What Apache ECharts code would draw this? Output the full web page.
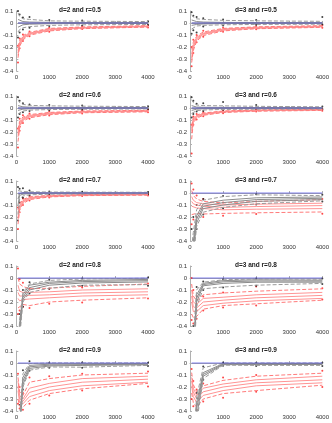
<!DOCTYPE html>
<html><head><meta charset="utf-8">
<script src="https://cdn.jsdelivr.net/npm/echarts@6/dist/echarts.min.js"></script>
<style>html,body{margin:0;padding:0;background:#fff}#c{width:332px;height:423px}</style>
</head><body><div id="c"></div>
<script>
// sample sizes (x positions)
const N = [50, 100, 200, 400, 1000, 2000, 4000];
const ZERO = [0, 0, 0, 0, 0, 0, 0];
const xTicks = [0, 1000, 2000, 3000, 4000];
const yTicks = [-0.4, -0.3, -0.2, -0.1, 0, 0.1];
const titles = ['d=2 and r=0.5', 'd=3 and r=0.5', 'd=2 and r=0.6', 'd=3 and r=0.6',
  'd=2 and r=0.7', 'd=3 and r=0.7', 'd=2 and r=0.8', 'd=3 and r=0.8',
  'd=2 and r=0.9', 'd=3 and r=0.9'];
// each group: [dotsHi, dashHi, solid1, solid2, solid3, dashLo, dotsLo]
const B1 = [[0.10,0.07,0.045,0.05,0.025,0.02,0.015],[0.085,0.055,0.035,0.03,0.018,0.015,0.012],[0.03,0.02,0.012,0.008,0.005,0.004,0.003],[0,0,0,0,0,0,0],[-0.035,-0.025,-0.015,-0.01,-0.006,-0.004,-0.003],[-0.075,-0.055,-0.04,-0.03,-0.02,-0.015,-0.012],[-0.12,-0.08,-0.055,-0.04,-0.025,-0.02,-0.015]];
const R1 = [[-0.19,-0.13,-0.095,-0.07,-0.04,-0.03,-0.02],[-0.2,-0.145,-0.105,-0.078,-0.045,-0.033,-0.022],[-0.23,-0.16,-0.115,-0.085,-0.05,-0.037,-0.025],[-0.25,-0.17,-0.122,-0.09,-0.055,-0.04,-0.028],[-0.27,-0.18,-0.13,-0.095,-0.06,-0.043,-0.031],[-0.29,-0.195,-0.14,-0.102,-0.066,-0.047,-0.034],[-0.33,-0.21,-0.15,-0.11,-0.072,-0.05,-0.037]];
const B2 = [[0.09,0.06,0.05,0.04,0.03,0.025,0.05],[0.07,0.05,0.035,0.03,0.022,0.018,0.014],[0.025,0.018,0.012,0.008,0.005,0.004,0.003],[0,0,0,0,0,0,0],[-0.02,-0.015,-0.012,-0.008,-0.005,-0.004,-0.003],[-0.05,-0.035,-0.025,-0.02,-0.015,-0.012,-0.01],[-0.09,-0.06,-0.08,-0.03,-0.02,-0.015,-0.012]];
const R2 = [[-0.2,-0.14,-0.1,-0.065,-0.04,-0.028,-0.018],[-0.22,-0.16,-0.11,-0.075,-0.045,-0.032,-0.022],[-0.26,-0.18,-0.12,-0.085,-0.05,-0.036,-0.026],[-0.29,-0.195,-0.13,-0.09,-0.055,-0.04,-0.029],[-0.31,-0.21,-0.14,-0.095,-0.06,-0.044,-0.032],[-0.33,-0.23,-0.15,-0.105,-0.066,-0.048,-0.036],[-0.36,-0.25,-0.16,-0.115,-0.072,-0.052,-0.04]];
const B3 = [[0.09,0.06,0.04,0.03,0.025,0.02,0.015],[0.07,0.045,0.03,0.022,0.018,0.015,0.012],[0.02,0.015,0.01,0.007,0.005,0.004,0.003],[0,0,0,0,0,0,0],[-0.02,-0.015,-0.01,-0.007,-0.005,-0.004,-0.003],[-0.05,-0.035,-0.025,-0.018,-0.013,-0.01,-0.008],[-0.08,-0.05,-0.035,-0.025,-0.018,-0.014,-0.011]];
const R3 = [[-0.17,-0.09,-0.06,-0.045,-0.03,-0.02,-0.015],[-0.18,-0.11,-0.075,-0.055,-0.037,-0.025,-0.019],[-0.2,-0.125,-0.085,-0.062,-0.042,-0.029,-0.022],[-0.22,-0.14,-0.092,-0.068,-0.046,-0.032,-0.025],[-0.24,-0.15,-0.1,-0.074,-0.05,-0.035,-0.028],[-0.28,-0.17,-0.11,-0.082,-0.056,-0.04,-0.032],[-0.33,-0.19,-0.125,-0.09,-0.062,-0.045,-0.036]];
const B4 = [[0.09,0.06,0.035,0.04,0.05,0.025,0.012],[0.07,0.045,0.025,0.02,0.018,0.014,0.01],[0.02,0.015,0.008,0.006,0.005,0.004,0.003],[0,0,0,0,0,0,0],[-0.02,-0.015,-0.01,-0.007,-0.005,-0.004,-0.003],[-0.045,-0.03,-0.022,-0.017,-0.012,-0.01,-0.008],[-0.08,-0.05,-0.03,-0.025,-0.02,-0.015,-0.01]];
const R4 = [[-0.14,-0.07,-0.05,-0.035,-0.02,-0.012,-0.008],[-0.15,-0.08,-0.058,-0.042,-0.025,-0.016,-0.011],[-0.17,-0.09,-0.064,-0.047,-0.028,-0.019,-0.013],[-0.19,-0.1,-0.07,-0.051,-0.031,-0.021,-0.015],[-0.21,-0.11,-0.076,-0.055,-0.034,-0.023,-0.017],[-0.26,-0.125,-0.085,-0.061,-0.038,-0.027,-0.02],[-0.38,-0.14,-0.095,-0.068,-0.043,-0.03,-0.023]];
const B5 = [[0.05,0.035,0.04,0.02,0.012,0.01,0.008],[0.02,0.015,0.012,0.01,0.008,0.007,0.006],[-0.01,0.005,0.004,0.003,0.002,0.002,0.001],[-0.05,-0.005,-0.002,-0.001,-0.001,0,0],[-0.1,-0.02,-0.01,-0.005,-0.004,-0.003,-0.002],[-0.18,-0.05,-0.025,-0.015,-0.01,-0.008,-0.006],[-0.23,-0.08,-0.04,-0.02,-0.015,-0.012,-0.01]];
const R5 = [[-0.12,-0.08,-0.045,-0.025,-0.015,-0.01,-0.006],[-0.14,-0.09,-0.055,-0.032,-0.019,-0.013,-0.009],[-0.17,-0.105,-0.065,-0.038,-0.023,-0.015,-0.011],[-0.2,-0.12,-0.072,-0.043,-0.026,-0.017,-0.013],[-0.22,-0.13,-0.08,-0.048,-0.029,-0.019,-0.015],[-0.26,-0.145,-0.09,-0.055,-0.033,-0.022,-0.018],[-0.3,-0.16,-0.1,-0.062,-0.037,-0.025,-0.021]];
const B6 = [[-0.3,-0.2,-0.1,-0.05,-0.025,-0.01,-0.015],[-0.45,-0.33,-0.14,-0.06,-0.03,-0.015,-0.022],[-0.6,-0.4,-0.19,-0.09,-0.06,-0.04,-0.033],[-0.65,-0.45,-0.22,-0.11,-0.08,-0.055,-0.044],[-0.7,-0.5,-0.25,-0.13,-0.1,-0.07,-0.055],[-0.8,-0.55,-0.28,-0.16,-0.12,-0.09,-0.065],[-0.9,-0.6,-0.3,-0.18,-0.13,-0.095,-0.07]];
const R6 = [[0.08,0.03,-0.02,-0.05,-0.08,-0.07,-0.05],[0.02,-0.02,-0.05,-0.07,-0.083,-0.07,-0.055],[-0.03,-0.06,-0.08,-0.09,-0.1,-0.093,-0.085],[-0.07,-0.09,-0.1,-0.11,-0.12,-0.113,-0.105],[-0.11,-0.12,-0.125,-0.13,-0.14,-0.135,-0.13],[-0.18,-0.17,-0.17,-0.175,-0.17,-0.165,-0.158],[-0.26,-0.22,-0.2,-0.2,-0.19,-0.175,-0.172]];
const B7 = [[-0.5,-0.3,-0.1,-0.035,-0.015,-0.005,0.005],[-0.6,-0.35,-0.12,-0.05,-0.02,-0.008,-0.002],[-0.7,-0.38,-0.14,-0.06,-0.035,-0.02,-0.012],[-0.75,-0.42,-0.16,-0.08,-0.045,-0.03,-0.022],[-0.8,-0.45,-0.18,-0.1,-0.06,-0.042,-0.033],[-0.9,-0.5,-0.2,-0.12,-0.085,-0.06,-0.055],[-1.0,-0.55,-0.24,-0.13,-0.09,-0.065,-0.065]];
const R7 = [[0.08,-0.01,-0.04,-0.09,-0.09,-0.08,-0.045],[0.0,-0.05,-0.07,-0.09,-0.085,-0.07,-0.05],[-0.06,-0.11,-0.12,-0.12,-0.115,-0.1,-0.09],[-0.12,-0.15,-0.15,-0.145,-0.14,-0.125,-0.115],[-0.17,-0.19,-0.18,-0.175,-0.165,-0.15,-0.14],[-0.25,-0.24,-0.22,-0.23,-0.2,-0.185,-0.165],[-0.3,-0.27,-0.24,-0.25,-0.215,-0.205,-0.17]];
const B8 = [[-0.6,-0.4,-0.075,-0.03,-0.01,-0.005,-0.005],[-0.7,-0.5,-0.1,-0.035,-0.015,-0.008,-0.01],[-0.8,-0.6,-0.14,-0.045,-0.022,-0.015,-0.018],[-0.85,-0.65,-0.17,-0.055,-0.032,-0.025,-0.026],[-0.9,-0.7,-0.2,-0.065,-0.045,-0.035,-0.035],[-1.0,-0.75,-0.24,-0.09,-0.075,-0.06,-0.045],[-1.1,-0.8,-0.27,-0.1,-0.08,-0.065,-0.05]];
const R8 = [[0.0,-0.1,-0.15,-0.155,-0.12,-0.07,-0.085],[-0.05,-0.15,-0.19,-0.14,-0.125,-0.11,-0.09],[-0.1,-0.2,-0.22,-0.17,-0.16,-0.14,-0.12],[-0.15,-0.24,-0.25,-0.2,-0.185,-0.165,-0.145],[-0.2,-0.28,-0.28,-0.23,-0.21,-0.19,-0.17],[-0.3,-0.33,-0.32,-0.26,-0.23,-0.215,-0.185],[-0.35,-0.38,-0.34,-0.27,-0.245,-0.23,-0.18]];
const B9 = [[-0.7,-0.35,-0.06,0.014,0.003,0.005,0.002],[-0.8,-0.45,-0.09,-0.005,0.0,0.0,0.0],[-0.9,-0.5,-0.12,-0.02,-0.01,-0.008,-0.005],[-0.95,-0.55,-0.15,-0.032,-0.018,-0.014,-0.01],[-1.0,-0.6,-0.18,-0.045,-0.025,-0.02,-0.015],[-1.1,-0.65,-0.2,-0.06,-0.033,-0.035,-0.02],[-1.2,-0.7,-0.22,-0.065,-0.04,-0.04,-0.025]];
const R9 = [[-0.09,-0.2,-0.25,-0.12,-0.11,-0.09,-0.07],[-0.12,-0.24,-0.27,-0.16,-0.13,-0.1,-0.085],[-0.15,-0.27,-0.3,-0.21,-0.17,-0.13,-0.11],[-0.19,-0.3,-0.32,-0.245,-0.2,-0.16,-0.135],[-0.23,-0.33,-0.34,-0.28,-0.23,-0.19,-0.16],[-0.3,-0.36,-0.37,-0.31,-0.255,-0.215,-0.17],[-0.34,-0.38,-0.39,-0.34,-0.27,-0.23,-0.195]];
const B10 = [[-0.8,-0.6,-0.25,-0.03,0.005,0.003,0.002],[-0.9,-0.7,-0.28,-0.04,0.0,0.0,0.0],[-1.0,-0.8,-0.33,-0.08,-0.005,-0.005,-0.004],[-1.05,-0.85,-0.38,-0.095,-0.01,-0.009,-0.008],[-1.1,-0.9,-0.45,-0.11,-0.014,-0.013,-0.012],[-1.2,-0.95,-0.5,-0.13,-0.018,-0.02,-0.02],[-1.3,-1.0,-0.55,-0.14,-0.022,-0.024,-0.024]];
const R10 = [[-0.05,-0.15,-0.22,-0.17,-0.12,-0.1,-0.065],[-0.08,-0.18,-0.24,-0.19,-0.145,-0.11,-0.085],[-0.12,-0.21,-0.27,-0.21,-0.175,-0.14,-0.11],[-0.15,-0.24,-0.3,-0.24,-0.2,-0.165,-0.14],[-0.19,-0.28,-0.33,-0.27,-0.23,-0.19,-0.165],[-0.25,-0.33,-0.37,-0.3,-0.255,-0.23,-0.185],[-0.3,-0.36,-0.39,-0.32,-0.29,-0.24,-0.2]];

const BLACK = [B1,B2,B3,B4,B5,B6,B7,B8,B9,B10];
const RED = [R1,R2,R3,R4,R5,R6,R7,R8,R9,R10];

const FONT = 'Liberation Sans, Arial, sans-serif';
const grids = [], xAxes = [], yAxes = [], series = [], tts = [];
const pair = arr => N.map((x, k) => [x, arr[k]]);

function addGroup(i, g, solidC, dashC, dotC) {
  const base = {xAxisIndex: i, yAxisIndex: i, silent: true, animation: false};
  [2, 3, 4].forEach(k => series.push(Object.assign({}, base, {type: 'line', showSymbol: false, data: pair(g[k]),
    lineStyle: {color: solidC, width: 1}})));
  [1, 5].forEach(k => series.push(Object.assign({}, base, {type: 'line', showSymbol: false, data: pair(g[k]),
    lineStyle: {color: dashC, width: 1, type: [4, 2]}})));
  [0, 6].forEach(k => series.push(Object.assign({}, base, {type: 'scatter', symbolSize: 2, data: pair(g[k]),
    itemStyle: {color: dotC}})));
}

for (let i = 0; i < 10; i++) {
  const row = Math.floor(i / 2), col = i % 2;
  const left = col === 0 ? 13 : 190;
  const width = col === 0 ? 135 : 136;
  const top = 11 + row * 85;
  grids.push({left: left, top: top, width: width, height: 60, containLabel: false});
  xAxes.push({type: 'value', gridIndex: i, min: 0, max: 4000, interval: 1000,
    axisLine: {show: true, lineStyle: {color: '#b0b0b0', width: 1}},
    axisTick: {show: true, inside: true, length: 2, lineStyle: {color: '#b0b0b0'}},
    splitLine: {show: false},
    axisLabel: {fontSize: 6, color: '#333', margin: 3, fontFamily: FONT,
      customValues: xTicks, formatter: v => String(v)}});
  yAxes.push({type: 'value', gridIndex: i, min: -0.4, max: 0.1, interval: 0.1,
    axisLine: {show: true, onZero: false, lineStyle: {color: '#b0b0b0', width: 1}},
    axisTick: {show: true, inside: true, length: 2, lineStyle: {color: '#b0b0b0'}},
    splitLine: {show: false},
    axisLabel: {fontSize: 6, color: '#333', margin: 3, fontFamily: FONT,
      formatter: v => String(Math.round(v * 10) / 10)}});
  tts.push({text: titles[i], left: col === 0 ? 75 : 251, top: row * 85 + 2, textAlign: 'center',
    textStyle: {fontSize: 6.5, fontWeight: 'bold', color: '#222', fontFamily: FONT}});
  addGroup(i, RED[i], '#ff9494', '#ff7a7a', '#ff1a1a');
  addGroup(i, BLACK[i], '#8c8c8c', '#9a9a9a', '#111');
  series.push({type: 'line', xAxisIndex: i, yAxisIndex: i, silent: true, animation: false, showSymbol: false,
    data: pair(ZERO), lineStyle: {color: 'rgba(70,70,230,0.45)', width: 1.5}});
}

const chart = echarts.init(document.getElementById('c'), null, {renderer: 'canvas'});
chart.setOption({animation: false, title: tts, grid: grids, xAxis: xAxes, yAxis: yAxes, series: series});
</script></body></html>
